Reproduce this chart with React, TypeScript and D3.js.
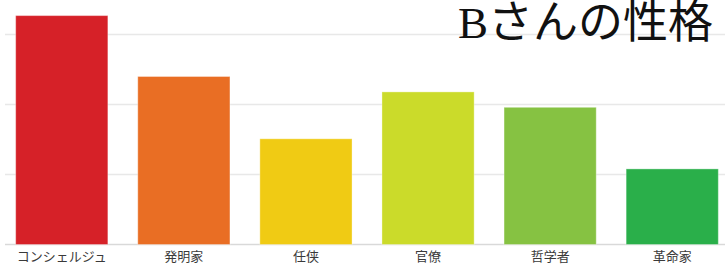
import React from "react"
import * as d3 from "d3"

const categories = ["コンシェルジュ", "発明家", "任侠", "官僚", "哲学者", "革命家"]
const values = [32.7, 24.0, 15.1, 21.8, 19.6, 10.8]
const colours = ["#d62128", "#e96e24", "#f0cb14", "#cbdb2a", "#86c242", "#2aaf4a"]
const gridTicks = [0, 10, 20, 30]
const title = "Bさんの性格"

const App = () => {
  const width = 725
  const height = 264
  const margin = { top: 0, right: -4, bottom: 19.5, left: 5 }

  const x = d3
    .scaleBand()
    .domain(categories)
    .range([margin.left, width - margin.right])
    .paddingInner(0.245)
    .paddingOuter(0.0875)
  const y = d3
    .scaleLinear()
    .domain([0, 35])
    .range([height - margin.bottom, height - margin.bottom - 245])

  return (
    <svg
      width={width}
      height={height}
      style={{ position: "absolute", left: 0, top: 0 }}
      fontFamily="'Noto Sans CJK JP', 'Noto Sans', sans-serif"
    >
      {/* grid */}
      {gridTicks.map(t => (
        <line
          key={t}
          x1={margin.left}
          x2={width}
          y1={y(t)}
          y2={y(t)}
          stroke={t === 0 ? "#d9d9d9" : "#e8e8e8"}
          strokeWidth={1.5}
        />
      ))}
      {/* bars */}
      {values.map((v, i) => (
        <rect
          key={categories[i]}
          x={x(categories[i])}
          y={y(v)}
          width={x.bandwidth()}
          height={y(0) - y(v)}
          fill={colours[i]}
          stroke="#ffffff"
          strokeOpacity={0.35}
          strokeWidth={1}
        />
      ))}
      {/* category labels */}
      {categories.map(c => (
        <text
          key={c}
          x={x(c) + x.bandwidth() / 2}
          y={260.5}
          textAnchor="middle"
          fontSize={13}
          fill="#3a3a3a"
        >
          {c}
        </text>
      ))}
      <text
        x={713}
        y={38}
        textAnchor="end"
        fontSize={45}
        fontFamily="'Liberation Serif', 'Noto Sans CJK JP', serif"
        fill="#111"
      >
        {title}
      </text>
    </svg>
  )
}

export default App
